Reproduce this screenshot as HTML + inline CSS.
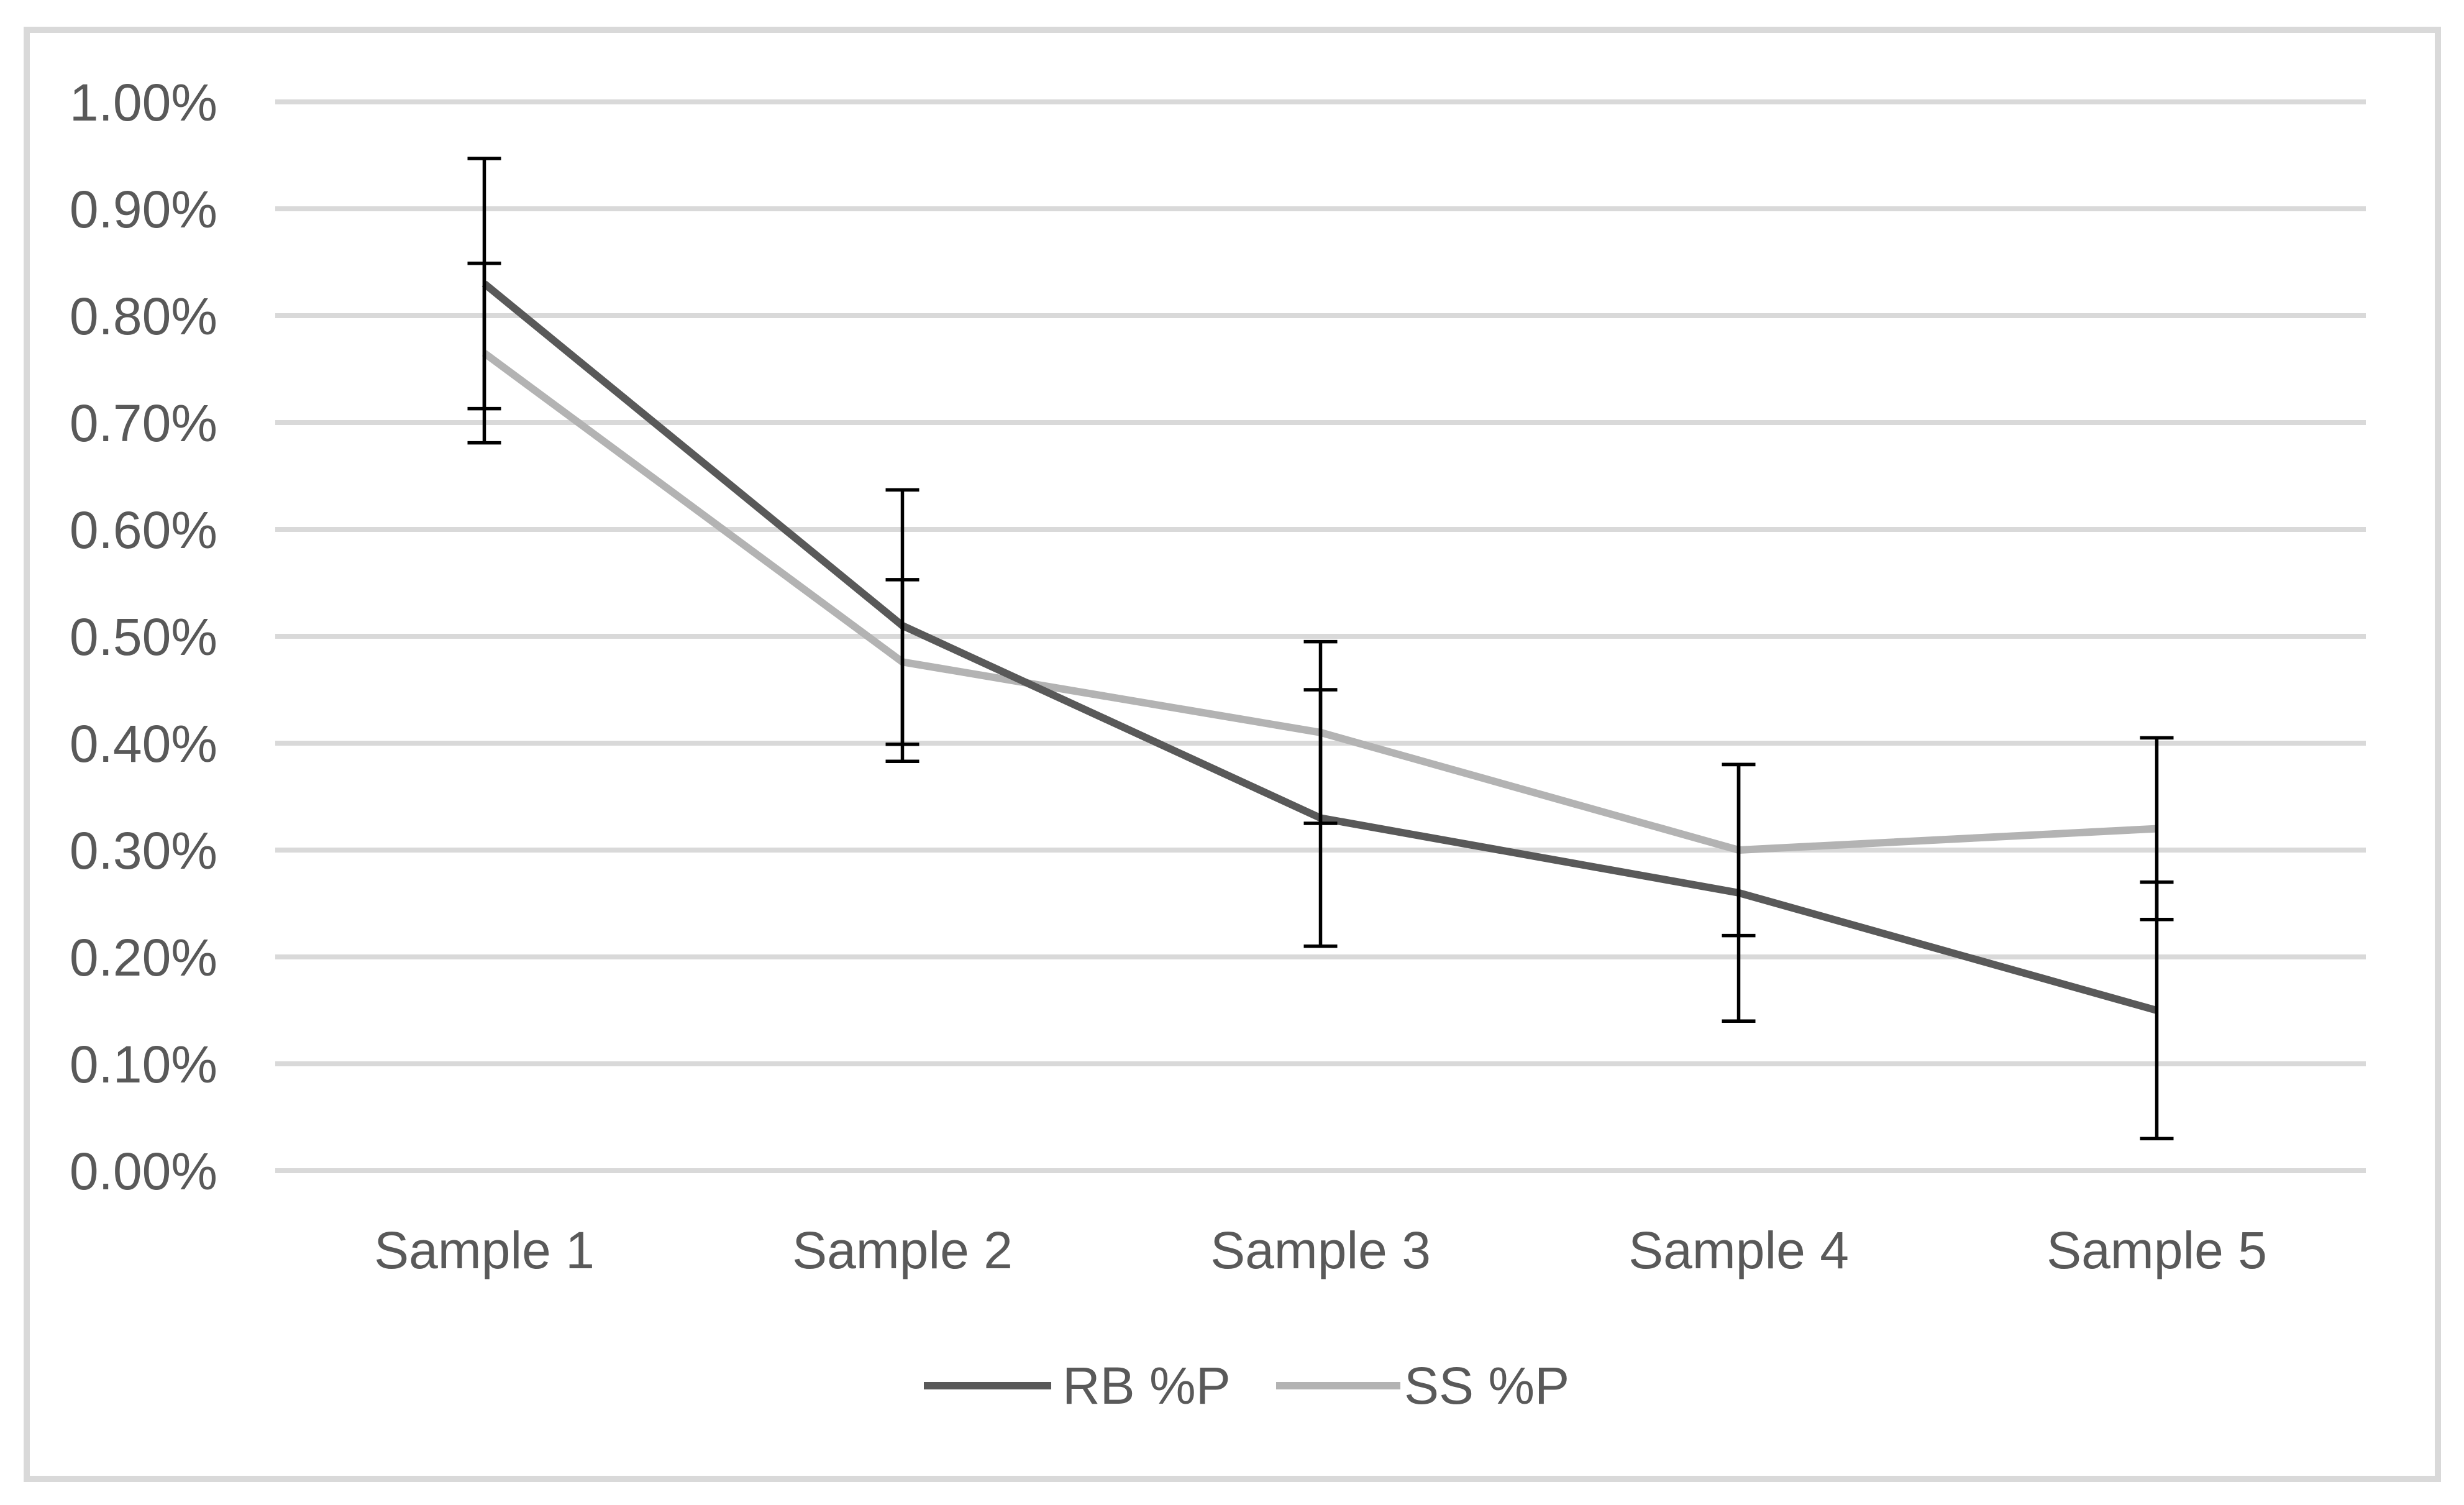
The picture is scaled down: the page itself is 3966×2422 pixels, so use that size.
<!DOCTYPE html>
<html><head><meta charset="utf-8"><style>
html,body{margin:0;padding:0;background:#fff;}
svg{display:block;}
text{font-family:"Liberation Sans",sans-serif;fill:#595959;}
</style></head><body>
<svg id="chart" width="3966" height="2422" viewBox="0 0 3966 2422" xmlns="http://www.w3.org/2000/svg">
<rect x="43" y="48" width="3881" height="2332" fill="#fff" stroke="#d9d9d9" stroke-width="10"/>
<g id="grid"></g>
<g id="ylabels"></g>
<g id="xlabels"></g>
<g id="series"></g>
<g id="errs"></g>
<g>
<line x1="1487" y1="2230" x2="1692" y2="2230" stroke="#595959" stroke-width="12"/>
<text x="1710" y="2259" font-size="84">RB %P</text>
<line x1="2054" y1="2230" x2="2254" y2="2230" stroke="#b3b3b3" stroke-width="12"/>
<text x="2260" y="2259" font-size="84">SS %P</text>
</g>
</svg>
<script>
const categories = ["Sample 1","Sample 2","Sample 3","Sample 4","Sample 5"];
const rbValues = [0.83,0.51,0.33,0.26,0.15];
const rbErr = [0.117,0.127,0.12,0.12,0.12];
const ssValues = [0.765,0.476,0.41,0.30,0.32];
const ssErr = [0.084,0.077,0.085,0.08,0.085];
const yTicks = [0,0.1,0.2,0.3,0.4,0.5,0.6,0.7,0.8,0.9,1.0];
const yTickLabels = ["0.00%","0.10%","0.20%","0.30%","0.40%","0.50%","0.60%","0.70%","0.80%","0.90%","1.00%"];

const NS="http://www.w3.org/2000/svg";
const L=443,R=3808,T=164,B=1884;
function xs(i){return L+(R-L)/categories.length*(i+0.5);}
function ys(v){return B-(B-T)*v/1.0;}
function mk(tag,attrs,parent){const e=document.createElementNS(NS,tag);for(const k in attrs)e.setAttribute(k,attrs[k]);parent.appendChild(e);return e;}
const grid=document.getElementById('grid'),yl=document.getElementById('ylabels'),xl=document.getElementById('xlabels'),ser=document.getElementById('series'),errs=document.getElementById('errs');
yTicks.forEach((t,i)=>{
  const g=mk('line',{x1:L,x2:R,y1:ys(t),y2:ys(t),stroke:'#d9d9d9','stroke-width':8},grid);
  
  
  const tx=mk('text',{x:350,y:ys(t)+30,'font-size':84,'text-anchor':'end'},yl);
  tx.textContent=yTickLabels[i];
  
  
});
categories.forEach((c,i)=>{
  const tx=mk('text',{x:xs(i),y:2041,'font-size':84,'text-anchor':'middle'},xl);
  tx.textContent=c;
  
  
});
function drawSeries(vals,color,name){
  const pts=vals.map((v,i)=>xs(i)+','+ys(v)).join(' ');
  const p=mk('polyline',{points:pts,fill:'none',stroke:color,'stroke-width':12,'stroke-linejoin':'round'},ser);
  
  
}
drawSeries(ssValues,'#b3b3b3','ss-line');
drawSeries(rbValues,'#595959','rb-line');
function drawErr(vals,err,name){
  vals.forEach((v,i)=>{
    const x=xs(i),y1=ys(v+err[i]),y2=ys(v-err[i]);
    const g=mk('g',{},errs);
    
    
    mk('line',{x1:x,x2:x,y1:y1,y2:y2,stroke:'#000','stroke-width':5.5},g);
    mk('line',{x1:x-27,x2:x+27,y1:y1,y2:y1,stroke:'#000','stroke-width':5.5},g);
    mk('line',{x1:x-27,x2:x+27,y1:y2,y2:y2,stroke:'#000','stroke-width':5.5},g);
  });
}
drawErr(rbValues,rbErr,'rb-error-bar');
drawErr(ssValues,ssErr,'ss-error-bar');
</script>
</body></html>
